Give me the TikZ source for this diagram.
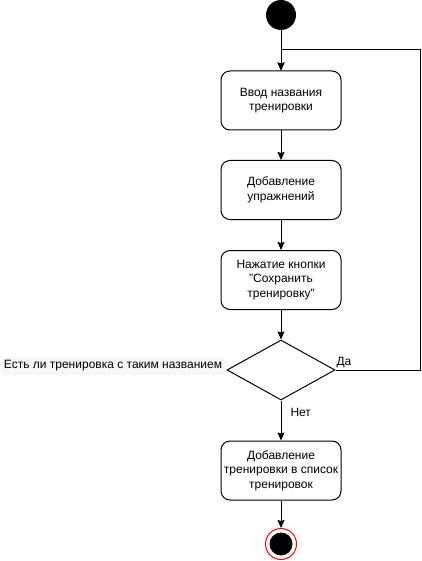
\documentclass[tikz,border=0pt]{standalone}
\usepackage{fontspec}
\setmainfont{Liberation Sans}
\usetikzlibrary{shapes.geometric,arrows.meta}
\newcommand{\dq}{{\char34}}
\begin{document}
\begin{tikzpicture}[x=1pt,y=-1pt,
  font=\fontsize{12}{14.5}\selectfont,
  line width=1pt,
  flow/.style={-{Stealth[length=8pt,width=7pt,inset=1pt]}},
  actbox/.style={draw, rounded corners=9pt, minimum width=120pt, minimum height=59pt,
    align=center, inner sep=1pt},
  decision/.style={draw, diamond, minimum width=108pt, minimum height=60pt, inner sep=0pt},
  startdot/.style={circle, fill=black, minimum size=30pt, inner sep=0pt},
  enddot/.style={circle, fill=black, minimum size=23pt, inner sep=0pt},
  endring/.style={circle, draw=red, fill=white, line width=1pt, minimum size=31pt, inner sep=0pt},
  lbl/.style={inner sep=1pt}
]
\useasboundingbox (0,0) rectangle (422,561);

% initial node
\node[startdot] (start) at (281,15) {};

% actions
\node[actbox] (b1) at (281,100.5) {Ввод названия\\тренировки};
\node[actbox] (b2) at (281,190) {Добавление\\упражнений};
\node[actbox] (b3) at (281,280) {Нажатие кнопки\\\dq Сохранить\\тренировку\dq};
\node[decision] (d) at (281,370) {};
\node[actbox] (b4) at (281,470.5) {Добавление\\тренировки в список\\тренировок};

% final node
\node[endring] (endo) at (281,544) {};
\node[enddot] (endi) at (281,544) {};

% condition label
\node[fill=gray!6, inner xsep=3pt, minimum height=18pt] (q) at (113,366)
  {Есть ли тренировка с таким названием};

% flow
\coordinate (join) at (281,50);
\coordinate (rt) at (420,370);
\draw[flow] (start) -- (b1);
\draw[flow] (b1) -- (b2);
\draw[flow] (b2) -- (b3);
\draw[flow] (b3) -- (d);
\draw[flow] (d) -- (b4) node[pos=0.3, right, lbl, xshift=8pt] (no) {Нет};
\draw[flow] (b4) -- (endo);
\draw (d.east) -- (rt) |- (join);
\draw[flow] (join) -- (b1);
\node[lbl] (yes) at (344,363) {Да};
\end{tikzpicture}
\end{document}
